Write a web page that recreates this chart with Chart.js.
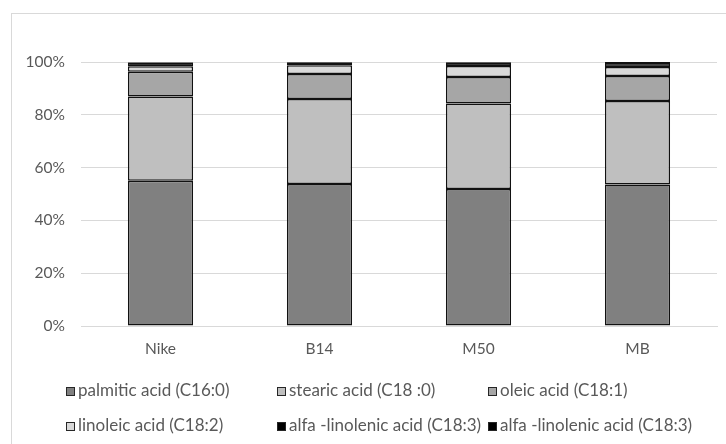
<!DOCTYPE html>
<html>
<head>
<meta charset="utf-8">
<script src="https://cdn.jsdelivr.net/npm/chart.js@4.4.1/dist/chart.umd.min.js"></script>
<style>
  html, body { margin: 0; padding: 0; background: #fff; overflow: hidden; }
  #wrap { position: relative; width: 726px; height: 444px; }
  #frame { position: absolute; left: 11px; top: 13px; width: 800px; height: 500px;
           border: 1px solid #d9d9d9; box-sizing: border-box; pointer-events: none; }
  #chart { position: absolute; left: 0; top: 0; }
  .leg { position: absolute; font-family: Lato, "Liberation Sans", sans-serif; font-size: 17px;
         color: #595959; white-space: nowrap; line-height: 18px; }
  .leg i { display: inline-block; width: 9px; height: 9px; box-sizing: border-box;
           border: 1px solid #262626; margin-right: 3px; vertical-align: 0px; }
</style>
</head>
<body>
<div id="wrap">
  <div id="frame"></div>
  <canvas id="chart" width="726" height="444"></canvas>
  <div id="legend"></div>
</div>
<script>
// Fatty acid composition (%) per sample
const categories = ['Nike', 'B14', 'M50', 'MB'];
const seriesNames = [
  'palmitic acid (C16:0)',
  'stearic acid (C18 :0)',
  'oleic acid (C18:1)',
  'linoleic acid (C18:2)',
  'alfa -linolenic acid (C18:3)',
  'alfa -linolenic acid (C18:3)'
];
const palmitic   = [55.0, 53.8, 51.9, 53.6];
const stearic    = [31.9, 32.2, 32.4, 31.6];
const oleic      = [9.4, 9.5, 10.0, 9.5];
const linoleic   = [2.1, 3.25, 4.2, 3.4];
const alfa1      = [1.4, 1.0, 1.2, 1.5];
const alfa2      = [0.2, 0.25, 0.3, 0.4];
const yTicks     = [0, 20, 40, 60, 80, 100];

const seriesValues = [palmitic, stearic, oleic, linoleic, alfa1, alfa2];
const fills = ['#808080', '#bfbfbf', '#a6a6a6', '#d9d9d9', '#000000', '#000000'];

const FONT = "Lato, 'Liberation Sans', sans-serif";

const datasets = seriesValues.map((vals, i) => ({
  label: seriesNames[i],
  data: vals,
  backgroundColor: fills[i],
  borderColor: '#111111',
  borderWidth: 1.5,
  borderSkipped: false,
  barPercentage: 0.41,
  categoryPercentage: 1.0
}));

const chart = new Chart(document.getElementById('chart'), {
  type: 'bar',
  data: { labels: categories, datasets },
  options: {
    responsive: false,
    animation: false,
    devicePixelRatio: 1,
    layout: { padding: { top: 62, right: 9, left: 0, bottom: 0 } },
    plugins: { legend: { display: false }, tooltip: { enabled: false } },
    scales: {
      x: {
        stacked: true,
        grid: { display: false, drawTicks: false },
        border: { display: true, color: '#d9d9d9', width: 1 },
        ticks: { color: '#595959', font: { family: FONT, size: 15.5 }, padding: 14 },
        afterFit: (s) => { s.height = 118; }
      },
      y: {
        stacked: true,
        min: 0,
        max: 100,
        afterBuildTicks: (s) => { s.ticks = yTicks.map(v => ({ value: v })); },
        grid: { color: '#d9d9d9', lineWidth: 1, drawTicks: false },
        border: { display: false },
        ticks: {
          color: '#595959',
          font: { family: FONT, size: 15.5 },
          padding: 16,
          callback: (v) => v + '%'
        },
        afterFit: (s) => { s.width = 81; }
      }
    }
  }
});

// Legend in three columns, two rows, built from the chart's datasets
const legend = document.getElementById('legend');
const colX = [66, 277, 488];
const rowY = [381, 416];
chart.data.datasets.forEach((ds, i) => {
  const d = document.createElement('div');
  d.className = 'leg';
  d.style.left = colX[i % 3] + 'px';
  d.style.top = rowY[Math.floor(i / 3)] + 'px';
  const m = document.createElement('i');
  m.style.background = ds.backgroundColor;
  d.appendChild(m);
  d.appendChild(document.createTextNode(ds.label));
  legend.appendChild(d);
});
</script>
</body>
</html>
